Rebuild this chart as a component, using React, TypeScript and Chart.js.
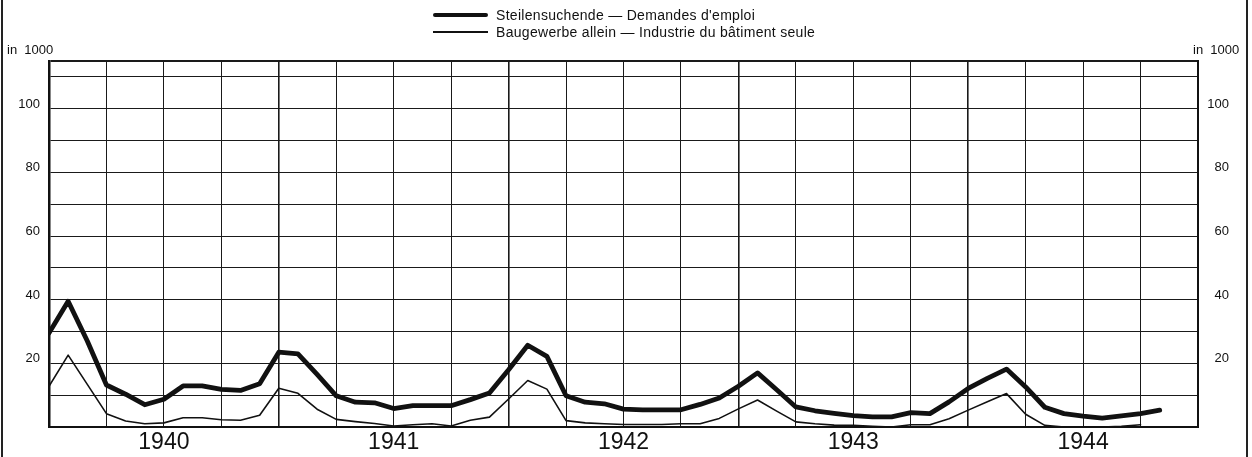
import React, { useEffect, useRef } from "react";
import { Chart, registerables } from "chart.js";

Chart.register(...registerables);

// Month index 0 = end of December 1939, 12 = end of December 1940, ... 60 = end of December 1944
const jobSeekers: number[] = [
  29.5, 39.5, 27, 13.2, 10.3, 7, 8.7, 12.9, 12.9, 11.8, 11.5, 13.6,
  23.5, 23, 16.5, 9.8, 7.8, 7.6, 5.8, 6.7, 6.7, 6.7, 8.6, 10.7,
  18, 25.7, 22.2, 9.8, 7.8, 7.3, 5.6, 5.4, 5.4, 5.4, 7.1, 9.1,
  12.8, 17, 11.7, 6.3, 5.1, 4.3, 3.6, 3.2, 3.2, 4.5, 4.2, 7.9,
  12.1, 15.3, 18.2, 12.6, 6.2, 4.2, 3.4, 2.8, 3.5, 4.2, 5.3,
];

const construction: number[] = [
  12.8, 22.6, 13.4, 4.2, 1.9, 1.0, 1.3, 2.9, 2.9, 2.3, 2.1, 3.7,
  12.2, 10.6, 5.6, 2.4, 1.7, 1.1, 0.3, 0.7, 1.0, 0.3, 2.1, 3.1,
  8.8, 14.6, 11.9, 2.0, 1.3, 1.0, 0.8, 0.8, 0.8, 1.0, 1.0, 2.7,
  5.7, 8.5, 5.0, 1.6, 1.0, 0.6, 0.5, 0.2, 0.0, 0.7, 0.7, 2.6,
  5.3, 7.9, 10.5, 4.0, 0.5, 0.0, 0.0, 0.0, 0.2, 0.7,
];

const yearLabels: string[] = ["1940", "1941", "1942", "1943", "1944"];
const yLabelValues: number[] = [20, 40, 60, 80, 100];
const yGridValues: number[] = [0, 10, 20, 30, 40, 50, 60, 70, 80, 90, 100, 110, 115];
const xGridValues: number[] = [0, 3, 6, 9, 12, 15, 18, 21, 24, 27, 30, 33, 36, 39, 42, 45, 48, 51, 54, 57, 60];
const unitLabel = "in  1000";
const legendLabels: string[] = [
  "Steilensuchende — Demandes d'emploi",
  "Baugewerbe allein — Industrie du bâtiment seule",
];

const INK = "#111";
const FONT = '"Liberation Sans", Arial, sans-serif';

const unitPlugin = {
  id: "unitLabel",
  afterDraw(chart: any) {
    const { ctx, chartArea } = chart;
    ctx.save();
    ctx.font = `13px ${FONT}`;
    ctx.fillStyle = INK;
    ctx.textBaseline = "middle";
    ctx.textAlign = "left";
    ctx.fillText(unitLabel, chartArea.left - 42, chartArea.top - 11);
    ctx.fillText(unitLabel, chartArea.right - 5, chartArea.top - 11);
    ctx.restore();
  },
};

export default function App() {
  const canvasRef = useRef<HTMLCanvasElement | null>(null);

  useEffect(() => {
    if (!canvasRef.current) return;
    Chart.defaults.font.family = FONT;
    const chart = new Chart(canvasRef.current, {
      type: "line",
      data: {
        datasets: [
          {
            label: legendLabels[0],
            data: jobSeekers.map((v, i) => ({ x: i, y: v })),
            borderColor: INK,
            borderWidth: 4.8,
            pointRadius: 0,
            tension: 0,
            borderJoinStyle: "round",
            borderCapStyle: "round",
            fill: false,
          },
          {
            label: legendLabels[1],
            data: construction.map((v, i) => ({ x: i, y: v })),
            borderColor: INK,
            borderWidth: 1.6,
            pointRadius: 0,
            tension: 0,
            borderJoinStyle: "round",
            borderCapStyle: "round",
            fill: false,
          },
        ],
      },
      options: {
        responsive: false,
        animation: false,
        devicePixelRatio: 1,
        layout: { padding: { top: 61, right: 23, left: 0, bottom: 0 } },
        plugins: {
          legend: { display: false },
          tooltip: { enabled: false },
        },
        scales: {
          x: {
            type: "linear",
            min: 0,
            max: 60,
            afterBuildTicks: (s: any) => {
              s.ticks = xGridValues.map((v) => ({ value: v }));
            },
            afterFit: (s: any) => {
              s.height = 30;
            },
            ticks: {
              autoSkip: false,
              maxRotation: 0,
              padding: 2,
              color: INK,
              font: { size: 23 },
              callback: (v: any) => {
                const n = Number(v);
                return n % 12 === 6 ? yearLabels[(n - 6) / 12] : "";
              },
            },
            grid: {
              color: "#1a1a1a",
              drawTicks: false,
              lineWidth: (c: any) => (c.tick && c.tick.value % 12 === 0 ? 1.6 : 1),
            },
            border: { display: true, width: 2, color: INK },
          },
          y: {
            type: "linear",
            position: "left",
            min: 0,
            max: 115,
            afterBuildTicks: (s: any) => {
              s.ticks = yGridValues.map((v) => ({ value: v }));
            },
            afterFit: (s: any) => {
              s.width = 49;
            },
            ticks: {
              autoSkip: false,
              padding: 9,
              labelOffset: -4.5,
              color: INK,
              font: { size: 13 },
              callback: (v: any) => (yLabelValues.includes(Number(v)) ? String(v) : ""),
            },
            grid: {
              color: "#1a1a1a",
              drawTicks: false,
              lineWidth: (c: any) => (c.tick && c.tick.value === 115 ? 2 : 1),
            },
            border: { display: true, width: 2.5, color: INK },
          },
          y2: {
            type: "linear",
            position: "right",
            min: 0,
            max: 115,
            afterBuildTicks: (s: any) => {
              s.ticks = yGridValues.map((v) => ({ value: v }));
            },
            afterFit: (s: any) => {
              s.width = 31;
            },
            ticks: {
              autoSkip: false,
              padding: 9,
              crossAlign: "far",
              labelOffset: -4.5,
              color: INK,
              font: { size: 13 },
              callback: (v: any) => (yLabelValues.includes(Number(v)) ? String(v) : ""),
            },
            grid: { display: false, drawTicks: false },
            border: { display: true, width: 2, color: INK },
          },
        },
      } as any,
      plugins: [unitPlugin],
    });
    return () => chart.destroy();
  }, []);

  const legendText: React.CSSProperties = {
    position: "absolute",
    left: 496,
    fontFamily: FONT,
    fontSize: 14,
    letterSpacing: "0.3px",
    lineHeight: "16px",
    color: INK,
    whiteSpace: "nowrap",
  };

  return (
    <div
      style={{
        position: "absolute",
        left: 0,
        top: 0,
        width: 1252,
        height: 457,
        background: "#fff",
        overflow: "hidden",
      }}
    >
      <canvas ref={canvasRef} width={1252} height={457} style={{ position: "absolute", left: 0, top: 0 }} />
      <div style={{ position: "absolute", left: 433, top: 13, width: 55, height: 4, background: INK, borderRadius: 2 }} />
      <div style={{ ...legendText, top: 7 }}>{legendLabels[0]}</div>
      <div style={{ position: "absolute", left: 433, top: 31, width: 55, height: 1.5, background: INK }} />
      <div style={{ ...legendText, top: 23.5 }}>{legendLabels[1]}</div>
      <div style={{ position: "absolute", left: 0.5, top: 0, width: 2, height: 457, background: "#222" }} />
      <div style={{ position: "absolute", left: 1245.5, top: 0, width: 2.5, height: 457, background: "#222" }} />
    </div>
  );
}
